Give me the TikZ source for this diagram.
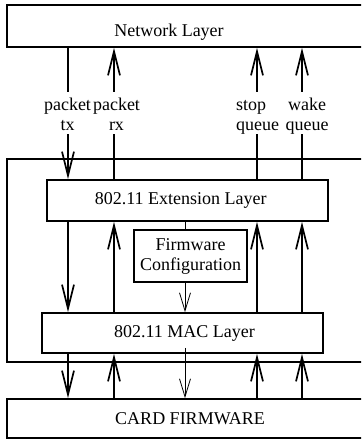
\documentclass[tikz,border=0pt]{standalone}
\usepackage{fontspec}
\setmainfont{Liberation Serif}
\usetikzlibrary{arrows.meta}
\begin{document}
\begin{tikzpicture}[x=1pt,y=-1pt,
  box/.style={draw,line width=1.7pt,inner sep=0pt,font=\fontsize{18}{20}\selectfont},
  lbl/.style={inner sep=0pt,font=\fontsize{18}{20}\selectfont,anchor=north},
  thk/.style={line width=1.7pt},
  thn/.style={line width=0.8pt},
  bigtip/.style={thk,-{Straight Barb[length=24pt,width=12pt]}},
  smalltip/.style={thn,-{Straight Barb[length=18pt,width=11pt]}}]
\useasboundingbox (0,0) rectangle (361,441);
\clip (0,0) rectangle (361,441);

% boxes
\node[box,minimum width=373pt,minimum height=42pt] (nl) at (193.5,26)
  {\raisebox{-10.5pt}[0pt][0pt]{Network Layer}\kern49pt};
\node[box,minimum width=373pt,minimum height=203pt] (outer) at (193.5,260.5) {};
\node[box,minimum width=281pt,minimum height=41pt] (ext) at (187.5,200.5)
  {802.11 Extension Layer\kern13.4pt};
\node[box,align=center,minimum width=113pt,minimum height=52pt] (fw) at (190.5,256)
  {Firmware\\Configuration};
\node[box,minimum width=281pt,minimum height=40pt] (mac) at (182.5,333)
  {\kern4pt 802.11 MAC Layer};
\node[box,minimum width=366pt,minimum height=39pt] (card) at (190,418.5)
  {CARD FIRMWARE};

% labels
\node[lbl,align=center] (lbltx) at (67.5,92) {\rule{0pt}{18pt}packet\\tx\rule[-4pt]{0pt}{4pt}};
\node[lbl,align=center] (lblrx) at (116.5,92) {\rule{0pt}{18pt}packet\\rx\rule[-4pt]{0pt}{4pt}};
\node[lbl,align=left] (lblstop) at (257.5,92) {\rule{0pt}{18pt}stop\\queue\rule[-4pt]{0pt}{4pt}};
\node[lbl,align=center] (lblwake) at (307,92) {\rule{0pt}{18pt}wake\\queue\rule[-4pt]{0pt}{4pt}};

% columns
\coordinate (ctx) at (68,0);
\coordinate (crx) at (114,0);
\coordinate (cfw) at (185,0);
\coordinate (cstop) at (257,0);
\coordinate (cwake) at (302,0);

% packet tx (downwards)
\draw[thk] (nl.south -| ctx) -- (lbltx.north -| ctx);
\draw[bigtip] (lbltx.south -| ctx) -- (ext.north -| ctx);
\draw[bigtip] (ext.south -| ctx) -- (mac.north -| ctx);
\draw[bigtip] (mac.south -| ctx) -- (card.north -| ctx);

% upward columns
\foreach \c/\l in {crx/lblrx, cstop/lblstop, cwake/lblwake} {
  \draw[bigtip] (\l.north -| \c) -- (nl.south -| \c);
  \draw[thk] (ext.north -| \c) -- (\l.south -| \c);
  \draw[bigtip] (mac.north -| \c) -- (ext.south -| \c);
  \draw[bigtip] (card.north -| \c) -- (mac.south -| \c);
}

% firmware configuration path
\draw[thn] (ext.south -| cfw) -- (fw.north -| cfw);
\draw[smalltip] (fw.south -| cfw) -- (mac.north -| cfw);
\coordinate (macfw) at (mac.south -| cfw);
\draw[smalltip] ([yshift=6pt]macfw) -- (card.north -| cfw);
\end{tikzpicture}
\end{document}
